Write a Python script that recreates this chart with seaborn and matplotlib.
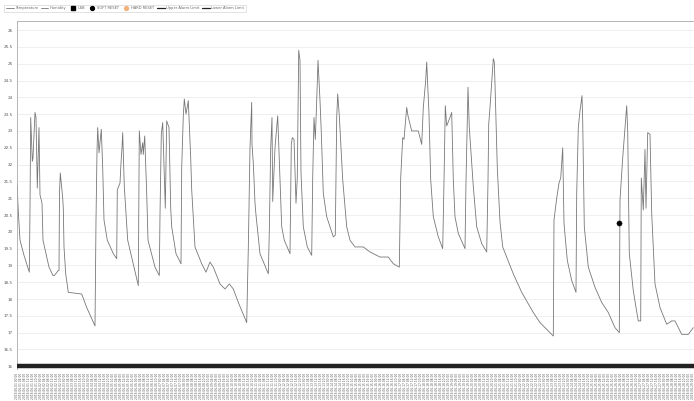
import seaborn as sns
import matplotlib.pyplot as plt
from matplotlib.lines import Line2D
import pandas as pd

# hours since start of the log, and temperature readings (deg C)
hours = [0, 0.3, 0.8, 1.5, 3, 7, 12.3, 13, 13.7, 15.3, 16, 18, 19, 20.3, 22, 23, 25, 26,
         32, 36, 37.3, 41.3, 42, 42.5, 43.3, 45.7, 46.3, 47, 48.7, 51.3, 64.7, 69.7, 78,
         79, 80, 80.7, 82, 84.3, 85.7, 87, 90.3, 96.3, 99.7, 100.3, 103, 104, 105, 105.7,
         107.3, 110.7, 121.3, 122.3, 124, 125.7, 126.3, 127.7, 129.7, 131, 138, 142.3,
         143, 144.3, 145.7, 148.3, 149.7, 152, 153.7, 154.7, 159, 164, 164.7, 166.3,
         167.3, 169, 171.3, 173.7, 174.7, 178, 184.7, 189, 193, 196.3, 203, 208, 212.3,
         216.3, 221.3, 229.7, 231.3, 233, 234.7, 235, 236.3, 238, 239, 243, 251.3, 252.3,
         253.7, 255, 255.7, 258, 260.7, 261.3, 263, 264.7, 267.3, 273, 274.3, 275.3, 277,
         277.7, 279, 280.3, 281.7, 283, 284, 286.3, 290.3, 294.7, 295.7, 297, 298.3,
         299.7, 301, 303, 304.3, 306.3, 309.7, 316.3, 318.3, 319.7, 320.7, 322.3, 325.7,
         329.7, 333, 338, 346.3, 353, 363, 371.3, 376.3, 382.3, 383.7, 385.7, 387, 389.7,
         391, 394.7, 401.3, 404.7, 406.3, 408.7, 409.7, 412, 413.7, 416.3, 421.3, 425.7,
         427, 428.3, 429.7, 433, 434.7, 436.3, 438, 441.3, 448, 449, 451, 452.3, 454,
         456.3, 459.7, 464.7, 469.7, 471, 471.7, 473, 476.3, 477.3, 478, 480.3, 483,
         485.7, 496.3, 504.7, 516.3, 523, 531.3, 536.3, 537, 539.7, 542, 543.7, 545.7,
         547, 550.3, 554.7, 559, 559.7, 561.3, 563, 565, 565.7, 567.3, 571.3, 578, 584.7,
         591.3, 598, 602.3, 603, 605.7, 608, 609.7, 610.7, 612.3, 616.3, 619, 621.3,
         623.7, 624.3, 626.3, 628, 629, 630.7, 633, 634.7, 638, 643, 649.7, 654.7, 658,
         664.7, 671.3, 676.3]
temperature = [21.3, 21.35, 20.9, 20.5, 19.75, 19.3, 18.8, 20.7, 23.4, 22.1, 22.2, 23.55,
               23.4, 21.3, 23.1, 21.1, 20.85, 19.75, 18.95, 18.7, 18.7, 18.85, 18.85,
               21.15, 21.75, 21.0, 20.7, 19.55, 18.75, 18.2, 18.15, 17.75, 17.2, 20.35,
               22.4, 23.1, 22.35, 23.05, 21.9, 20.35, 19.75, 19.35, 19.2, 21.25, 21.45,
               22.05, 22.5, 22.95, 21.35, 19.75, 18.4, 23.0, 22.3, 22.65, 22.3, 22.85,
               21.15, 19.75, 18.95, 18.7, 20.5, 22.9, 23.25, 20.7, 23.3, 23.1, 20.7,
               20.15, 19.35, 19.05, 21.9, 23.45, 23.95, 23.5, 23.9, 22.2, 21.25, 19.55,
               19.05, 18.8, 19.1, 18.95, 18.45, 18.3, 18.45, 18.3, 17.9, 17.3, 19.5, 22.5,
               23.85, 22.6, 22.05, 20.85, 20.5, 19.35, 18.75, 20.0, 22.5, 23.4, 20.9,
               22.5, 23.45, 22.95, 21.55, 20.15, 19.75, 19.35, 22.6, 22.8, 22.75, 22.1,
               20.85, 21.6, 25.4, 25.1, 21.75, 20.15, 19.55, 19.3, 21.6, 23.4, 22.75,
               23.9, 25.1, 23.9, 22.95, 21.15, 20.45, 19.85, 19.9, 23.4, 24.1, 23.45,
               21.55, 20.15, 19.75, 19.55, 19.55, 19.4, 19.25, 19.25, 19.05, 18.95, 21.6,
               22.8, 22.75, 23.7, 23.45, 23.0, 23.0, 22.6, 23.7, 24.5, 25.05, 23.5,
               21.55, 20.45, 19.85, 19.5, 21.5, 23.75, 23.15, 23.4, 23.55, 21.55, 20.45,
               19.95, 19.5, 21.5, 24.3, 23.1, 22.35, 21.35, 20.15, 19.65, 19.4, 21.5,
               23.2, 23.7, 25.15, 25.05, 24.4, 21.9, 20.3, 19.55, 18.75, 18.2, 17.6, 17.3,
               17.05, 16.9, 20.35, 21.0, 21.45, 21.6, 22.5, 20.25, 19.15, 18.55, 18.2,
               21.15, 23.1, 23.6, 24.05, 23.3, 20.15, 18.95, 18.35, 17.9, 17.6, 17.15,
               17.0, 20.95, 22.2, 23.1, 23.75, 23.0, 19.35, 18.25, 17.75, 17.35, 17.35,
               21.6, 20.65, 22.45, 20.7, 22.95, 22.9, 20.55, 18.45, 17.75, 17.25, 17.35,
               17.35, 16.95, 16.95, 17.15]

soft_reset_hours = [602.3]
soft_reset_temp = [20.27]

lower_alarm_limit = 16
start = pd.Timestamp("2019-06-01 00:00")
tick_hours = list(range(0, 677, 4))
y_ticks = [16 + 0.5 * i for i in range(21)]

df = pd.DataFrame({"hours": hours, "temperature": temperature})

sns.set_style("white")
plt.rcParams["font.family"] = ["DejaVu Sans"]

fig = plt.figure(figsize=(6.94, 4.01), dpi=100)
ax = fig.add_axes([17 / 694, 1 - 369 / 401, 1 - 17 / 694, 348 / 401])

ax.axhline(lower_alarm_limit, color="#222222", lw=3.2, zorder=4)
sns.lineplot(data=df, x="hours", y="temperature", estimator=None, sort=False,
             color="#777777", lw=0.6, ax=ax)
sns.scatterplot(x=soft_reset_hours, y=soft_reset_temp, color="black", s=14,
                edgecolor="black", zorder=5, ax=ax)

ax.set_xlim(0, 677)
ax.set_ylim(15.92, 26.27)
ax.set_yticks(y_ticks)
ax.set_yticklabels([f"{v:g}" for v in y_ticks], fontsize=3, color="#555555")
ax.set_xticks(tick_hours)
labels = [(start + pd.Timedelta(hours=h)).strftime("%Y-%m-%d %H:%M") for h in tick_hours]
ax.set_xticklabels(labels, rotation=90, fontsize=2.1, color="#555555")
ax.tick_params(axis="y", length=2, width=0.4, color="#999999", pad=1)
ax.tick_params(axis="x", length=0, pad=2.5)
ax.set_xlabel("")
ax.set_ylabel("")
ax.yaxis.grid(True, color="#ececec", lw=0.6)
ax.set_axisbelow(True)
for side in ["left", "top"]:
    ax.spines[side].set_color("#aaaaaa")
    ax.spines[side].set_linewidth(0.6)
ax.spines["right"].set_visible(False)
ax.spines["bottom"].set_visible(False)

handles = [
    Line2D([], [], color="#777777", lw=0.6),
    Line2D([], [], color="#777777", lw=0.6),
    Line2D([], [], color="black", marker="s", ls="", ms=2.2),
    Line2D([], [], color="black", marker="o", ls="", ms=2.8),
    Line2D([], [], color="#f2b27a", marker="o", ls="", ms=2.8),
    Line2D([], [], color="#222222", lw=0.9),
    Line2D([], [], color="#222222", lw=0.9),
]
names = ["Temperature", "Humidity", "USB", "SOFT RESET", "HARD RESET",
         "Upper Alarm Limit", "Lower Alarm Limit"]
leg = fig.legend(handles, names, loc="upper left", bbox_to_anchor=(0.003, 0.993),
                 ncol=7, fontsize=2.6, frameon=True, fancybox=False, handlelength=2.2,
                 columnspacing=0.7, handletextpad=0.35, borderpad=0.5)
leg.get_frame().set_edgecolor("#cccccc")
leg.get_frame().set_linewidth(0.5)
for t in leg.get_texts():
    t.set_color("#666666")

fig.savefig("out.png", dpi=100)
